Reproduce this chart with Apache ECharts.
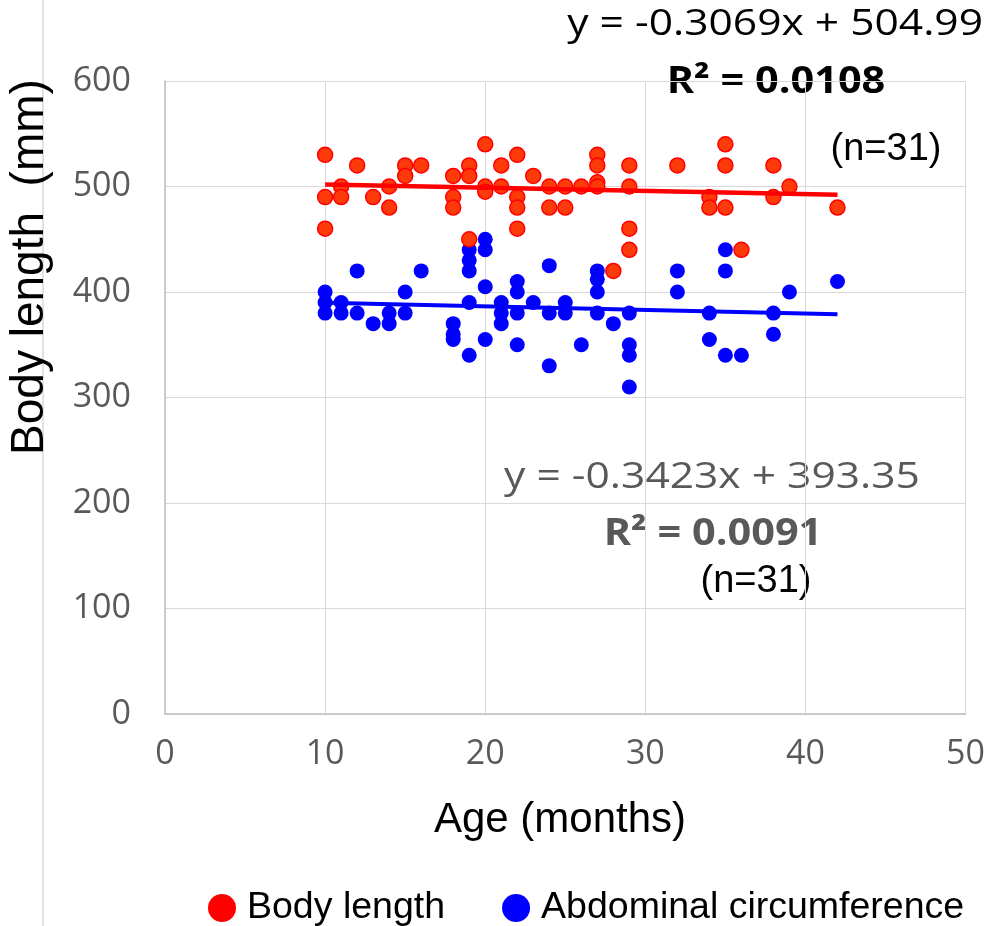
<!DOCTYPE html>
<html>
<head>
<meta charset="utf-8">
<title>Body length and abdominal circumference by age</title>
<script src="https://cdn.jsdelivr.net/npm/echarts@6/dist/echarts.min.js"></script>
<style>
  html, body { margin: 0; padding: 0; background: #ffffff; }
  #chart { width: 988px; height: 926px; }
</style>
</head>
<body>
<div id="chart"></div>
<script>
// Body length (mm) by age (months)
const bodyAge = [10,10,10,11,11,12,13,14,14,15,15,16,18,18,18,19,19,19,20,20,20,21,21,22,22,22,22,23,24,24,25,25,26,27,27,27,27,28,29,29,29,29,32,34,34,35,35,35,36,38,38,39,42];
const bodyLength = [530,490,460,500,490,520,490,500,480,520,510,520,510,490,480,520,510,450,540,500,495,520,500,530,490,480,460,510,500,480,500,480,500,530,520,504,500,420,520,500,460,440,520,490,480,540,520,480,440,520,490,500,480];

// Abdominal circumference (mm) by age (months)
const abdAge = [10,10,10,11,11,12,12,13,14,14,15,15,16,18,18,18,19,19,19,19,19,20,20,20,20,21,21,21,22,22,22,22,23,24,24,24,25,25,26,27,27,27,27,28,29,29,29,29,32,32,34,34,35,35,35,36,38,38,39,42];
const abdCirc = [400,390,380,390,380,420,380,370,380,370,400,380,420,370,360,355,440,430,420,390,340,450,440,405,355,390,380,370,410,400,380,350,390,425,380,330,390,380,350,420,412,400,380,370,380,350,340,310,420,400,380,355,440,420,340,340,380,360,400,410];

// Linear fits: [slope, intercept], R², n
const bodyFit = [-0.3069, 504.99];
const abdFit = [-0.3423, 393.35];
const bodyR2 = '0.0108';
const abdR2 = '0.0091';
const bodyN = 31;
const abdN = 31;

const xTicks = [0, 10, 20, 30, 40, 50];
const yTicks = [0, 100, 200, 300, 400, 500, 600];

function pairs(xs, ys) { return xs.map((x, i) => [x, ys[i]]); }
function fitLine(xs, coef) {
  const lo = Math.min.apply(null, xs), hi = Math.max.apply(null, xs);
  return [[lo, coef[0] * lo + coef[1]], [hi, coef[0] * hi + coef[1]]];
}
function eqText(coef) {
  return 'y = ' + coef[0].toFixed(4) + 'x + ' + coef[1].toFixed(2);
}

const chart = echarts.init(document.getElementById('chart'), null, { renderer: 'canvas' });

const labelFont = '"Open Sans", "Noto Sans", sans-serif';
const titleFont = '"Liberation Sans", Arial, sans-serif';

chart.setOption({
  animation: false,
  backgroundColor: '#ffffff',
  grid: { left: 165, right: 21, top: 81, bottom: 212, containLabel: false },
  xAxis: {
    type: 'value', min: xTicks[0], max: xTicks[xTicks.length - 1], interval: 10,
    axisLine: { show: true, lineStyle: { color: '#bfbfbf', width: 1.5 } },
    axisTick: { show: false },
    splitLine: { show: true, lineStyle: { color: '#d9d9d9', width: 1 } },
    axisLabel: { color: '#595959', fontSize: 34, fontFamily: labelFont, margin: 23 }
  },
  yAxis: {
    type: 'value', min: yTicks[0], max: yTicks[yTicks.length - 1], interval: 100,
    axisLine: { show: true, lineStyle: { color: '#bfbfbf', width: 1.5 } },
    axisTick: { show: false },
    splitLine: { show: true, lineStyle: { color: '#d9d9d9', width: 1 } },
    axisLabel: { color: '#595959', fontSize: 34, fontFamily: labelFont, margin: 34 }
  },
  legend: {
    left: 203, top: 884, padding: 5,
    icon: 'circle', itemWidth: 28, itemHeight: 28, itemGap: 57,
    textStyle: { color: '#000000', fontSize: 37.5, fontFamily: titleFont, padding: [0, 0, 0, 6] },
    data: [
      { name: 'Body length', itemStyle: { color: '#ff0000', borderWidth: 0 } },
      { name: 'Abdominal circumference', itemStyle: { color: '#0000ff', borderWidth: 0 } }
    ]
  },
  series: [
    {
      name: 'Abdominal circumference', type: 'scatter', z: 2,
      symbol: 'circle', symbolSize: 15,
      itemStyle: { color: '#0000ff', opacity: 1 },
      data: pairs(abdAge, abdCirc)
    },
    {
      name: 'Body length', type: 'scatter', z: 3,
      symbol: 'circle', symbolSize: 15,
      itemStyle: { color: '#ff3a0a', borderColor: '#ff0000', borderWidth: 1.5, opacity: 1 },
      data: pairs(bodyAge, bodyLength)
    },
    {
      name: 'Abdominal circumference fit', type: 'line', z: 4,
      symbol: 'none', silent: true,
      lineStyle: { color: '#0000ff', width: 4 },
      data: fitLine(abdAge, abdFit)
    },
    {
      name: 'Body length fit', type: 'line', z: 5,
      symbol: 'none', silent: true,
      lineStyle: { color: '#ff0000', width: 4.5 },
      data: fitLine(bodyAge, bodyFit)
    }
  ],
  graphic: [
    { type: 'line', shape: { x1: 43, y1: 0, x2: 43, y2: 926 }, style: { stroke: '#d9d9d9', lineWidth: 1.5 }, silent: true },
    {
      type: 'text', x: 30, y: 267, rotation: Math.PI / 2,
      style: { text: 'Body length  (mm)', fill: '#000000', fontSize: 46, fontFamily: titleFont,
               align: 'center', verticalAlign: 'middle', textAlign: 'center', textVerticalAlign: 'middle' }
    },
    {
      type: 'text', x: 560, y: 820,
      style: { text: 'Age (months)', fill: '#000000', fontSize: 42, fontFamily: titleFont,
               align: 'center', verticalAlign: 'middle', textAlign: 'center', textVerticalAlign: 'middle' }
    },
    {
      type: 'text', x: 983, y: 24, scaleX: 1.15,
      style: { text: eqText(bodyFit), fill: '#000000', fontSize: 37, fontFamily: labelFont,
               align: 'right', verticalAlign: 'middle', textAlign: 'right', textVerticalAlign: 'middle' }
    },
    {
      type: 'text', x: 776, y: 82, scaleX: 1.12,
      style: { text: 'R² = ' + bodyR2, fill: '#000000', fontSize: 37, fontWeight: 'bold', fontFamily: labelFont,
               align: 'center', verticalAlign: 'middle', textAlign: 'center', textVerticalAlign: 'middle' }
    },
    {
      type: 'text', x: 886, y: 150,
      style: { text: '(n=' + bodyN + ')', fill: '#000000', fontSize: 38, fontFamily: titleFont,
               align: 'center', verticalAlign: 'middle', textAlign: 'center', textVerticalAlign: 'middle' }
    },
    {
      type: 'text', x: 712, y: 477, scaleX: 1.15,
      style: { text: eqText(abdFit), fill: '#595959', fontSize: 37, fontFamily: labelFont,
               align: 'center', verticalAlign: 'middle', textAlign: 'center', textVerticalAlign: 'middle' }
    },
    {
      type: 'text', x: 713, y: 534, scaleX: 1.12,
      style: { text: 'R² = ' + abdR2, fill: '#595959', fontSize: 37, fontWeight: 'bold', fontFamily: labelFont,
               align: 'center', verticalAlign: 'middle', textAlign: 'center', textVerticalAlign: 'middle' }
    },
    {
      type: 'text', x: 756, y: 582,
      style: { text: '(n=' + abdN + ')', fill: '#000000', fontSize: 38, fontFamily: titleFont,
               align: 'center', verticalAlign: 'middle', textAlign: 'center', textVerticalAlign: 'middle' }
    }
  ]
});
</script>
</body>
</html>
